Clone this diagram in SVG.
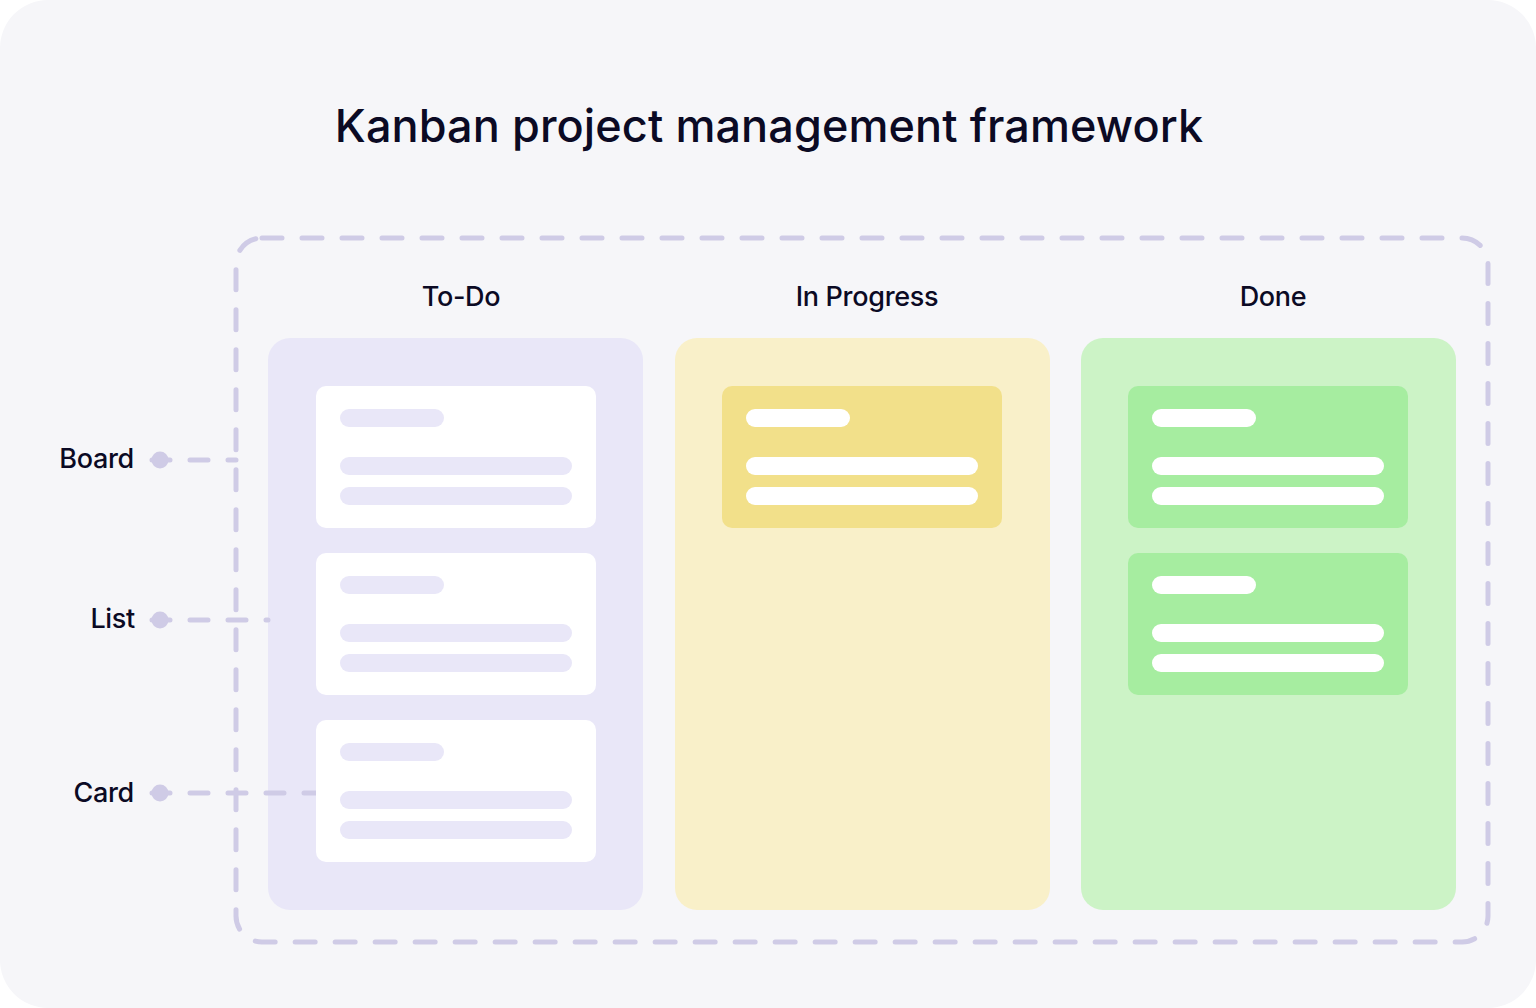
<svg xmlns="http://www.w3.org/2000/svg" width="1536" height="1008" viewBox="0 0 1536 1008">
<style>
.t{font-family:Inter,"Noto Sans","Liberation Sans",sans-serif;font-weight:500;fill:#0B0A24}
.h{font-size:27px;text-anchor:middle;letter-spacing:-0.3px}
.lbl{font-size:27px;text-anchor:end;letter-spacing:-0.3px}
.dash{fill:none;stroke:#CFCBE6;stroke-width:5;stroke-linecap:round;stroke-dasharray:18 20}
.dot{fill:#CFCBE6}
.pb{fill:#E9E7F8}
.wb{fill:#FFFFFF}
</style>
<rect id="background" x="0" y="0" width="1536" height="1008" rx="48" fill="#F6F6F9"/>
<text id="title" class="t" x="769" y="142" font-size="45" font-weight="600" text-anchor="middle" letter-spacing="0.1">Kanban project management framework</text>
<g id="board">
<rect x="236" y="238" width="1252" height="704" rx="26" fill="none" stroke="#CFCBE6" stroke-width="5" stroke-linecap="round" stroke-dasharray="20 20"/>
</g>
<g id="list-todo">
<rect x="268" y="338" width="375" height="572" rx="22" fill="#E9E7F8"/>
<text class="t h" x="461" y="306">To-Do</text>
</g>
<g id="list-inprogress">
<rect x="675" y="338" width="375" height="572" rx="22" fill="#F9F0C9"/>
<text class="t h" x="867" y="306">In Progress</text>
</g>
<g id="list-done">
<rect x="1081" y="338" width="375" height="572" rx="22" fill="#CCF3C6"/>
<text class="t h" x="1273" y="306">Done</text>
</g>
<g id="labels">
<g id="label-board"><text class="t lbl" x="134" y="468">Board</text><circle class="dot" cx="160" cy="460" r="8.5"/></g>
<g id="label-list"><text class="t lbl" x="135" y="628">List</text><circle class="dot" cx="160" cy="620" r="8.5"/></g>
<g id="label-card"><text class="t lbl" x="134" y="802">Card</text><circle class="dot" cx="160" cy="793" r="8.5"/></g>
</g>
<g id="connectors">
<line class="dash" x1="152" y1="460" x2="236" y2="460"/>
<line class="dash" x1="152" y1="620" x2="268" y2="620"/>
<line class="dash" x1="152" y1="793" x2="316" y2="793"/>
</g>
<g id="card-todo-1">
<rect x="316" y="386" width="280" height="142" rx="10" fill="#FFFFFF"/>
<rect class="pb" x="340" y="409" width="104" height="18" rx="9"/>
<rect class="pb" x="340" y="457" width="232" height="18" rx="9"/>
<rect class="pb" x="340" y="487" width="232" height="18" rx="9"/>
</g>
<g id="card-todo-2">
<rect x="316" y="553" width="280" height="142" rx="10" fill="#FFFFFF"/>
<rect class="pb" x="340" y="576" width="104" height="18" rx="9"/>
<rect class="pb" x="340" y="624" width="232" height="18" rx="9"/>
<rect class="pb" x="340" y="654" width="232" height="18" rx="9"/>
</g>
<g id="card-todo-3">
<rect x="316" y="720" width="280" height="142" rx="10" fill="#FFFFFF"/>
<rect class="pb" x="340" y="743" width="104" height="18" rx="9"/>
<rect class="pb" x="340" y="791" width="232" height="18" rx="9"/>
<rect class="pb" x="340" y="821" width="232" height="18" rx="9"/>
</g>
<g id="card-inprogress-1">
<rect x="722" y="386" width="280" height="142" rx="10" fill="#F2E08A"/>
<rect class="wb" x="746" y="409" width="104" height="18" rx="9"/>
<rect class="wb" x="746" y="457" width="232" height="18" rx="9"/>
<rect class="wb" x="746" y="487" width="232" height="18" rx="9"/>
</g>
<g id="card-done-1">
<rect x="1128" y="386" width="280" height="142" rx="10" fill="#A6EDA0"/>
<rect class="wb" x="1152" y="409" width="104" height="18" rx="9"/>
<rect class="wb" x="1152" y="457" width="232" height="18" rx="9"/>
<rect class="wb" x="1152" y="487" width="232" height="18" rx="9"/>
</g>
<g id="card-done-2">
<rect x="1128" y="553" width="280" height="142" rx="10" fill="#A6EDA0"/>
<rect class="wb" x="1152" y="576" width="104" height="18" rx="9"/>
<rect class="wb" x="1152" y="624" width="232" height="18" rx="9"/>
<rect class="wb" x="1152" y="654" width="232" height="18" rx="9"/>
</g>
</svg>
